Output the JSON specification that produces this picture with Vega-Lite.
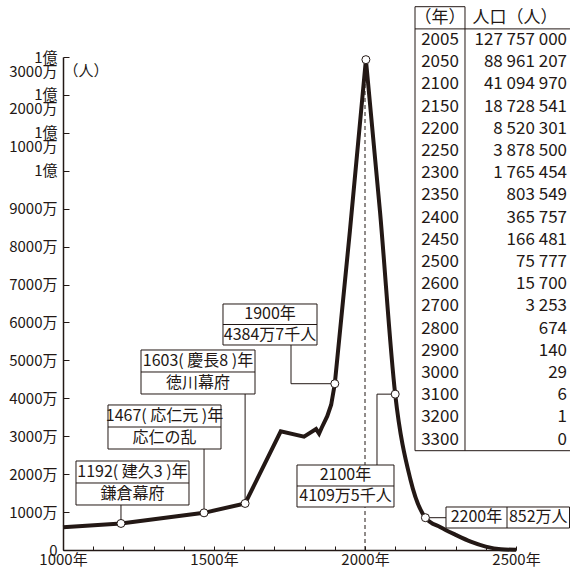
{
  "$schema": "https://vega.github.io/schema/vega-lite/v6.json",
  "width": 453,
  "height": 493,
  "autosize": {"type": "none"},
  "padding": {"left": 63, "top": 57, "right": 54, "bottom": 26},
  "background": "white",
  "config": {
    "font": "Noto Sans CJK JP",
    "view": {"stroke": null},
    "locale": {"number": {"decimal": ".", "thousands": " ", "grouping": [3], "currency": ["", ""]}},
    "axis": {"labelFont": "Noto Sans CJK JP", "titleFont": "Noto Sans CJK JP", "domainColor": "#231815", "tickColor": "#231815", "labelColor": "#231815", "titleColor": "#231815", "grid": false, "ticks": true},
    "text": {"font": "Noto Sans CJK JP", "color": "#231815"}
  },
  "datasets": {
    "rise": [
      {"year": 1000, "pop": 6000000},
      {"year": 1192, "pop": 7000000},
      {"year": 1467, "pop": 9800000},
      {"year": 1603, "pop": 12270000},
      {"year": 1721, "pop": 31300000},
      {"year": 1798, "pop": 29900000},
      {"year": 1838, "pop": 31900000},
      {"year": 1848, "pop": 30700000},
      {"year": 1857, "pop": 32300000},
      {"year": 1875, "pop": 35300000},
      {"year": 1888, "pop": 38300000},
      {"year": 1900, "pop": 43847000},
      {"year": 1950, "pop": 84100000},
      {"year": 2003, "pop": 129300000}
    ],
    "fall": [
      {"year": 2003, "pop": 129300000},
      {"year": 2050, "pop": 88961207},
      {"year": 2100, "pop": 41094970},
      {"year": 2150, "pop": 18728541},
      {"year": 2200, "pop": 8520301},
      {"year": 2250, "pop": 6000000},
      {"year": 2300, "pop": 4000000},
      {"year": 2350, "pop": 2200000},
      {"year": 2400, "pop": 900000},
      {"year": 2450, "pop": 200000},
      {"year": 2500, "pop": 50000}
    ],
    "marked": [
      {"year": 1192, "pop": 7000000},
      {"year": 1467, "pop": 9800000},
      {"year": 1603, "pop": 12270000},
      {"year": 1900, "pop": 43847000},
      {"year": 2003, "pop": 129300000},
      {"year": 2100, "pop": 41094970},
      {"year": 2200, "pop": 8520301}
    ],
    "boxes": [
      {"xl": 1043.0, "xr": 1417.2, "yt": 23470000, "yb": 11870000},
      {"xl": 1149.0, "xr": 1523.2, "yt": 38240000, "yb": 26630000},
      {"xl": 1258.3, "xr": 1635.8, "yt": 52740000, "yb": 41140000},
      {"xl": 1529.8, "xr": 1841.1, "yt": 64870000, "yb": 54060000},
      {"xl": 1774.8, "xr": 2096.0, "yt": 22410000, "yb": 11340000},
      {"xl": 2268.2, "xr": 2677.2, "yt": 11340000, "yb": 5800000}
    ],
    "dividers": [
      {"x": 1043.0, "x2": 1417.2, "y": 17670000, "y2": 17670000},
      {"x": 1149.0, "x2": 1523.2, "y": 32430000, "y2": 32430000},
      {"x": 1258.3, "x2": 1635.8, "y": 46940000, "y2": 46940000},
      {"x": 1529.8, "x2": 1841.1, "y": 59460000, "y2": 59460000},
      {"x": 1774.8, "x2": 2096.0, "y": 16880000, "y2": 16880000},
      {"x": 2470.2, "x2": 2470.2, "y": 11340000, "y2": 5800000}
    ],
    "leaders": [
      {"x": 1192, "x2": 1192, "y": 11870000, "y2": 7000000},
      {"x": 1467, "x2": 1467, "y": 26630000, "y2": 9800000},
      {"x": 1603, "x2": 1603, "y": 41140000, "y2": 12270000},
      {"x": 1755, "x2": 1755, "y": 54060000, "y2": 43847000},
      {"x": 1755, "x2": 1900, "y": 43847000, "y2": 43847000},
      {"x": 2039.7, "x2": 2039.7, "y": 22410000, "y2": 41094970},
      {"x": 2039.7, "x2": 2100, "y": 41094970, "y2": 41094970},
      {"x": 2200, "x2": 2268.2, "y": 8520301, "y2": 8520301}
    ],
    "notes": [
      {"x": 1230.1, "y": 20570000, "text": "1192( 建久3 )年"},
      {"x": 1230.1, "y": 14770000, "text": "鎌倉幕府"},
      {"x": 1336.1, "y": 35330000, "text": "1467( 応仁元 )年"},
      {"x": 1336.1, "y": 29530000, "text": "応仁の乱"},
      {"x": 1447.0, "y": 49840000, "text": "1603( 慶長8 )年"},
      {"x": 1447.0, "y": 44040000, "text": "徳川幕府"},
      {"x": 1685.5, "y": 62160000, "text": "1900年"},
      {"x": 1685.5, "y": 56760000, "text": "4384万7千人"},
      {"x": 1935.4, "y": 19650000, "text": "2100年"},
      {"x": 1935.4, "y": 14110000, "text": "4109万5千人"},
      {"x": 2369.2, "y": 8570000, "text": "2200年"},
      {"x": 2573.7, "y": 8570000, "text": "852万人"}
    ],
    "table": [
      {"row": 1, "year": 2005, "pop": 127757000},
      {"row": 2, "year": 2050, "pop": 88961207},
      {"row": 3, "year": 2100, "pop": 41094970},
      {"row": 4, "year": 2150, "pop": 18728541},
      {"row": 5, "year": 2200, "pop": 8520301},
      {"row": 6, "year": 2250, "pop": 3878500},
      {"row": 7, "year": 2300, "pop": 1765454},
      {"row": 8, "year": 2350, "pop": 803549},
      {"row": 9, "year": 2400, "pop": 365757},
      {"row": 10, "year": 2450, "pop": 166481},
      {"row": 11, "year": 2500, "pop": 75777},
      {"row": 12, "year": 2600, "pop": 15700},
      {"row": 13, "year": 2700, "pop": 3253},
      {"row": 14, "year": 2800, "pop": 674},
      {"row": 15, "year": 2900, "pop": 140},
      {"row": 16, "year": 3000, "pop": 29},
      {"row": 17, "year": 3100, "pop": 6},
      {"row": 18, "year": 3200, "pop": 1},
      {"row": 19, "year": 3300, "pop": 0}
    ]
  },
  "layer": [
    {
      "layer": [
        {
          "data": {"name": "rise"},
          "mark": {"type": "line", "color": "#231815", "strokeWidth": 4},
          "encoding": {
            "x": {"field": "year", "type": "quantitative", "scale": {"domain": [1000, 2500], "nice": false, "zero": false},
              "axis": {"title": null, "values": [1000, 1100, 1200, 1300, 1400, 1500, 1600, 1700, 1800, 1900, 2000, 2100, 2200, 2300, 2400, 2500], "labelExpr": "datum.value % 500 === 0 ? datum.value + '年' : ''", "labelOverlap": false, "labelFlush": false, "tickSize": -4, "tickWidth": 1, "domainWidth": 1.5, "labelFontSize": 15, "labelPadding": 6}},
            "y": {"field": "pop", "type": "quantitative", "scale": {"domain": [0, 130000000], "nice": false},
              "axis": {"title": "（人）", "titleAngle": 0, "titleAlign": "left", "titleBaseline": "middle", "titleX": 0, "titleY": 13, "titleFontSize": 15, "titleFontWeight": "normal", "values": [0, 10000000, 20000000, 30000000, 40000000, 50000000, 60000000, 70000000, 80000000, 90000000, 100000000, 110000000, 120000000, 130000000], "labelExpr": "datum.value === 0 ? '0' : datum.value < 100000000 ? format(datum.value / 10000, 'd') + '万' : datum.value === 100000000 ? '1億' : ['1億', format((datum.value - 100000000) / 10000, 'd') + '万']", "labelOverlap": false, "labelFlush": false, "labelFontSize": 15, "labelLineHeight": 14, "labelPadding": 12, "tickSize": -6, "tickWidth": 1, "domainWidth": 1.5}}
          }
        },
        {
          "data": {"name": "fall"},
          "mark": {"type": "line", "color": "#231815", "strokeWidth": 4, "interpolate": "monotone"},
          "encoding": {
            "x": {"field": "year", "type": "quantitative", "scale": {"domain": [1000, 2500], "nice": false, "zero": false},
              "axis": {"title": null, "values": [1000, 1100, 1200, 1300, 1400, 1500, 1600, 1700, 1800, 1900, 2000, 2100, 2200, 2300, 2400, 2500], "labelExpr": "datum.value % 500 === 0 ? datum.value + '年' : ''", "labelOverlap": false, "labelFlush": false, "tickSize": -4, "tickWidth": 1, "domainWidth": 1.5, "labelFontSize": 15, "labelPadding": 6}},
            "y": {"field": "pop", "type": "quantitative", "scale": {"domain": [0, 130000000], "nice": false},
              "axis": {"title": "（人）", "titleAngle": 0, "titleAlign": "left", "titleBaseline": "middle", "titleX": 0, "titleY": 13, "titleFontSize": 15, "titleFontWeight": "normal", "values": [0, 10000000, 20000000, 30000000, 40000000, 50000000, 60000000, 70000000, 80000000, 90000000, 100000000, 110000000, 120000000, 130000000], "labelExpr": "datum.value === 0 ? '0' : datum.value < 100000000 ? format(datum.value / 10000, 'd') + '万' : datum.value === 100000000 ? '1億' : ['1億', format((datum.value - 100000000) / 10000, 'd') + '万']", "labelOverlap": false, "labelFlush": false, "labelFontSize": 15, "labelLineHeight": 14, "labelPadding": 12, "tickSize": -6, "tickWidth": 1, "domainWidth": 1.5}}
          }
        },
        {
          "data": {"values": [{}]},
          "mark": {"type": "rule", "color": "#231815", "strokeWidth": 1, "strokeDash": [4, 3]},
          "encoding": {
            "x": {"datum": 2000, "type": "quantitative", "scale": {"domain": [1000, 2500], "nice": false, "zero": false},
              "axis": {"title": null, "values": [1000, 1100, 1200, 1300, 1400, 1500, 1600, 1700, 1800, 1900, 2000, 2100, 2200, 2300, 2400, 2500], "labelExpr": "datum.value % 500 === 0 ? datum.value + '年' : ''", "labelOverlap": false, "labelFlush": false, "tickSize": -4, "tickWidth": 1, "domainWidth": 1.5, "labelFontSize": 15, "labelPadding": 6}},
            "y": {"datum": 0, "type": "quantitative", "scale": {"domain": [0, 130000000], "nice": false},
              "axis": {"title": "（人）", "titleAngle": 0, "titleAlign": "left", "titleBaseline": "middle", "titleX": 0, "titleY": 13, "titleFontSize": 15, "titleFontWeight": "normal", "values": [0, 10000000, 20000000, 30000000, 40000000, 50000000, 60000000, 70000000, 80000000, 90000000, 100000000, 110000000, 120000000, 130000000], "labelExpr": "datum.value === 0 ? '0' : datum.value < 100000000 ? format(datum.value / 10000, 'd') + '万' : datum.value === 100000000 ? '1億' : ['1億', format((datum.value - 100000000) / 10000, 'd') + '万']", "labelOverlap": false, "labelFlush": false, "labelFontSize": 15, "labelLineHeight": 14, "labelPadding": 12, "tickSize": -6, "tickWidth": 1, "domainWidth": 1.5}},
            "y2": {"datum": 129300000}
          }
        },
        {
          "data": {"name": "leaders"},
          "mark": {"type": "rule", "color": "#231815", "strokeWidth": 1},
          "encoding": {
            "x": {"field": "x", "type": "quantitative", "scale": {"domain": [1000, 2500], "nice": false, "zero": false},
              "axis": {"title": null, "values": [1000, 1100, 1200, 1300, 1400, 1500, 1600, 1700, 1800, 1900, 2000, 2100, 2200, 2300, 2400, 2500], "labelExpr": "datum.value % 500 === 0 ? datum.value + '年' : ''", "labelOverlap": false, "labelFlush": false, "tickSize": -4, "tickWidth": 1, "domainWidth": 1.5, "labelFontSize": 15, "labelPadding": 6}},
            "x2": {"field": "x2"},
            "y": {"field": "y", "type": "quantitative", "scale": {"domain": [0, 130000000], "nice": false},
              "axis": {"title": "（人）", "titleAngle": 0, "titleAlign": "left", "titleBaseline": "middle", "titleX": 0, "titleY": 13, "titleFontSize": 15, "titleFontWeight": "normal", "values": [0, 10000000, 20000000, 30000000, 40000000, 50000000, 60000000, 70000000, 80000000, 90000000, 100000000, 110000000, 120000000, 130000000], "labelExpr": "datum.value === 0 ? '0' : datum.value < 100000000 ? format(datum.value / 10000, 'd') + '万' : datum.value === 100000000 ? '1億' : ['1億', format((datum.value - 100000000) / 10000, 'd') + '万']", "labelOverlap": false, "labelFlush": false, "labelFontSize": 15, "labelLineHeight": 14, "labelPadding": 12, "tickSize": -6, "tickWidth": 1, "domainWidth": 1.5}},
            "y2": {"field": "y2"}
          }
        },
        {
          "data": {"name": "boxes"},
          "mark": {"type": "rect", "fill": "white", "stroke": "#231815", "strokeWidth": 1},
          "encoding": {
            "x": {"field": "xl", "type": "quantitative", "scale": {"domain": [1000, 2500], "nice": false, "zero": false},
              "axis": {"title": null, "values": [1000, 1100, 1200, 1300, 1400, 1500, 1600, 1700, 1800, 1900, 2000, 2100, 2200, 2300, 2400, 2500], "labelExpr": "datum.value % 500 === 0 ? datum.value + '年' : ''", "labelOverlap": false, "labelFlush": false, "tickSize": -4, "tickWidth": 1, "domainWidth": 1.5, "labelFontSize": 15, "labelPadding": 6}},
            "x2": {"field": "xr"},
            "y": {"field": "yt", "type": "quantitative", "scale": {"domain": [0, 130000000], "nice": false},
              "axis": {"title": "（人）", "titleAngle": 0, "titleAlign": "left", "titleBaseline": "middle", "titleX": 0, "titleY": 13, "titleFontSize": 15, "titleFontWeight": "normal", "values": [0, 10000000, 20000000, 30000000, 40000000, 50000000, 60000000, 70000000, 80000000, 90000000, 100000000, 110000000, 120000000, 130000000], "labelExpr": "datum.value === 0 ? '0' : datum.value < 100000000 ? format(datum.value / 10000, 'd') + '万' : datum.value === 100000000 ? '1億' : ['1億', format((datum.value - 100000000) / 10000, 'd') + '万']", "labelOverlap": false, "labelFlush": false, "labelFontSize": 15, "labelLineHeight": 14, "labelPadding": 12, "tickSize": -6, "tickWidth": 1, "domainWidth": 1.5}},
            "y2": {"field": "yb"}
          }
        },
        {
          "data": {"name": "dividers"},
          "mark": {"type": "rule", "color": "#231815", "strokeWidth": 1},
          "encoding": {
            "x": {"field": "x", "type": "quantitative", "scale": {"domain": [1000, 2500], "nice": false, "zero": false},
              "axis": {"title": null, "values": [1000, 1100, 1200, 1300, 1400, 1500, 1600, 1700, 1800, 1900, 2000, 2100, 2200, 2300, 2400, 2500], "labelExpr": "datum.value % 500 === 0 ? datum.value + '年' : ''", "labelOverlap": false, "labelFlush": false, "tickSize": -4, "tickWidth": 1, "domainWidth": 1.5, "labelFontSize": 15, "labelPadding": 6}},
            "x2": {"field": "x2"},
            "y": {"field": "y", "type": "quantitative", "scale": {"domain": [0, 130000000], "nice": false},
              "axis": {"title": "（人）", "titleAngle": 0, "titleAlign": "left", "titleBaseline": "middle", "titleX": 0, "titleY": 13, "titleFontSize": 15, "titleFontWeight": "normal", "values": [0, 10000000, 20000000, 30000000, 40000000, 50000000, 60000000, 70000000, 80000000, 90000000, 100000000, 110000000, 120000000, 130000000], "labelExpr": "datum.value === 0 ? '0' : datum.value < 100000000 ? format(datum.value / 10000, 'd') + '万' : datum.value === 100000000 ? '1億' : ['1億', format((datum.value - 100000000) / 10000, 'd') + '万']", "labelOverlap": false, "labelFlush": false, "labelFontSize": 15, "labelLineHeight": 14, "labelPadding": 12, "tickSize": -6, "tickWidth": 1, "domainWidth": 1.5}},
            "y2": {"field": "y2"}
          }
        },
        {
          "data": {"name": "notes"},
          "mark": {"type": "text", "fontSize": 16, "align": "center", "baseline": "middle"},
          "encoding": {
            "x": {"field": "x", "type": "quantitative", "scale": {"domain": [1000, 2500], "nice": false, "zero": false},
              "axis": {"title": null, "values": [1000, 1100, 1200, 1300, 1400, 1500, 1600, 1700, 1800, 1900, 2000, 2100, 2200, 2300, 2400, 2500], "labelExpr": "datum.value % 500 === 0 ? datum.value + '年' : ''", "labelOverlap": false, "labelFlush": false, "tickSize": -4, "tickWidth": 1, "domainWidth": 1.5, "labelFontSize": 15, "labelPadding": 6}},
            "y": {"field": "y", "type": "quantitative", "scale": {"domain": [0, 130000000], "nice": false},
              "axis": {"title": "（人）", "titleAngle": 0, "titleAlign": "left", "titleBaseline": "middle", "titleX": 0, "titleY": 13, "titleFontSize": 15, "titleFontWeight": "normal", "values": [0, 10000000, 20000000, 30000000, 40000000, 50000000, 60000000, 70000000, 80000000, 90000000, 100000000, 110000000, 120000000, 130000000], "labelExpr": "datum.value === 0 ? '0' : datum.value < 100000000 ? format(datum.value / 10000, 'd') + '万' : datum.value === 100000000 ? '1億' : ['1億', format((datum.value - 100000000) / 10000, 'd') + '万']", "labelOverlap": false, "labelFlush": false, "labelFontSize": 15, "labelLineHeight": 14, "labelPadding": 12, "tickSize": -6, "tickWidth": 1, "domainWidth": 1.5}},
            "text": {"field": "text"}
          }
        },
        {
          "data": {"name": "marked"},
          "mark": {"type": "point", "shape": "circle", "filled": true, "fill": "white", "stroke": "#231815", "strokeWidth": 1, "size": 64, "opacity": 1},
          "encoding": {
            "x": {"field": "year", "type": "quantitative", "scale": {"domain": [1000, 2500], "nice": false, "zero": false},
              "axis": {"title": null, "values": [1000, 1100, 1200, 1300, 1400, 1500, 1600, 1700, 1800, 1900, 2000, 2100, 2200, 2300, 2400, 2500], "labelExpr": "datum.value % 500 === 0 ? datum.value + '年' : ''", "labelOverlap": false, "labelFlush": false, "tickSize": -4, "tickWidth": 1, "domainWidth": 1.5, "labelFontSize": 15, "labelPadding": 6}},
            "y": {"field": "pop", "type": "quantitative", "scale": {"domain": [0, 130000000], "nice": false},
              "axis": {"title": "（人）", "titleAngle": 0, "titleAlign": "left", "titleBaseline": "middle", "titleX": 0, "titleY": 13, "titleFontSize": 15, "titleFontWeight": "normal", "values": [0, 10000000, 20000000, 30000000, 40000000, 50000000, 60000000, 70000000, 80000000, 90000000, 100000000, 110000000, 120000000, 130000000], "labelExpr": "datum.value === 0 ? '0' : datum.value < 100000000 ? format(datum.value / 10000, 'd') + '万' : datum.value === 100000000 ? '1億' : ['1億', format((datum.value - 100000000) / 10000, 'd') + '万']", "labelOverlap": false, "labelFlush": false, "labelFontSize": 15, "labelLineHeight": 14, "labelPadding": 12, "tickSize": -6, "tickWidth": 1, "domainWidth": 1.5}}
          }
        }
      ]
    },
    {
      "layer": [
        {
          "data": {"name": "table"},
          "mark": {"type": "text", "fontSize": 17, "align": "center", "baseline": "middle"},
          "encoding": {
            "x": {"datum": 2248.4, "type": "quantitative", "scale": {"domain": [1000, 2500], "nice": false, "zero": false},
              "axis": {"title": null, "values": [1000, 1100, 1200, 1300, 1400, 1500, 1600, 1700, 1800, 1900, 2000, 2100, 2200, 2300, 2400, 2500], "labelExpr": "datum.value % 500 === 0 ? datum.value + '年' : ''", "labelOverlap": false, "labelFlush": false, "tickSize": -4, "tickWidth": 1, "domainWidth": 1.5, "labelFontSize": 15, "labelPadding": 6}},
            "y": {"field": "row", "type": "quantitative", "scale": {"domain": [1.7658, 23.973], "reverse": true, "nice": false, "zero": false}, "axis": null},
            "text": {"field": "year", "type": "quantitative", "format": "d"}
          }
        },
        {
          "data": {"name": "table"},
          "mark": {"type": "text", "fontSize": 17, "align": "right", "baseline": "middle"},
          "encoding": {
            "x": {"datum": 2669, "type": "quantitative", "scale": {"domain": [1000, 2500], "nice": false, "zero": false},
              "axis": {"title": null, "values": [1000, 1100, 1200, 1300, 1400, 1500, 1600, 1700, 1800, 1900, 2000, 2100, 2200, 2300, 2400, 2500], "labelExpr": "datum.value % 500 === 0 ? datum.value + '年' : ''", "labelOverlap": false, "labelFlush": false, "tickSize": -4, "tickWidth": 1, "domainWidth": 1.5, "labelFontSize": 15, "labelPadding": 6}},
            "y": {"field": "row", "type": "quantitative", "scale": {"domain": [1.7658, 23.973], "reverse": true, "nice": false, "zero": false}, "axis": null},
            "text": {"field": "pop", "type": "quantitative", "format": ",d"}
          }
        },
        {
          "data": {"values": [{"col": 2248.4, "label": "（年）"}, {"col": 2497, "label": "人口（人）"}]},
          "mark": {"type": "text", "fontSize": 17, "align": "center", "baseline": "middle"},
          "encoding": {
            "x": {"field": "col", "type": "quantitative", "scale": {"domain": [1000, 2500], "nice": false, "zero": false},
              "axis": {"title": null, "values": [1000, 1100, 1200, 1300, 1400, 1500, 1600, 1700, 1800, 1900, 2000, 2100, 2200, 2300, 2400, 2500], "labelExpr": "datum.value % 500 === 0 ? datum.value + '年' : ''", "labelOverlap": false, "labelFlush": false, "tickSize": -4, "tickWidth": 1, "domainWidth": 1.5, "labelFontSize": 15, "labelPadding": 6}},
            "y": {"datum": 0, "type": "quantitative", "scale": {"domain": [1.7658, 23.973], "reverse": true, "nice": false, "zero": false}, "axis": null},
            "text": {"field": "label"}
          }
        },
        {
          "data": {"values": [
            {"x": 2165.6, "x2": 2165.6, "y": -0.5, "y2": 19.5},
            {"x": 2331.1, "x2": 2331.1, "y": -0.5, "y2": 19.5},
            {"x": 2165.6, "x2": 2331.1, "y": -0.5, "y2": -0.5},
            {"x": 2165.6, "x2": 2678.8, "y": 0.5, "y2": 0.5},
            {"x": 2165.6, "x2": 2678.8, "y": 19.5, "y2": 19.5}
          ]},
          "mark": {"type": "rule", "color": "#231815", "strokeWidth": 1},
          "encoding": {
            "x": {"field": "x", "type": "quantitative", "scale": {"domain": [1000, 2500], "nice": false, "zero": false},
              "axis": {"title": null, "values": [1000, 1100, 1200, 1300, 1400, 1500, 1600, 1700, 1800, 1900, 2000, 2100, 2200, 2300, 2400, 2500], "labelExpr": "datum.value % 500 === 0 ? datum.value + '年' : ''", "labelOverlap": false, "labelFlush": false, "tickSize": -4, "tickWidth": 1, "domainWidth": 1.5, "labelFontSize": 15, "labelPadding": 6}},
            "x2": {"field": "x2"},
            "y": {"field": "y", "type": "quantitative", "scale": {"domain": [1.7658, 23.973], "reverse": true, "nice": false, "zero": false}, "axis": null},
            "y2": {"field": "y2"}
          }
        }
      ]
    }
  ],
  "resolve": {"scale": {"y": "independent"}}
}
